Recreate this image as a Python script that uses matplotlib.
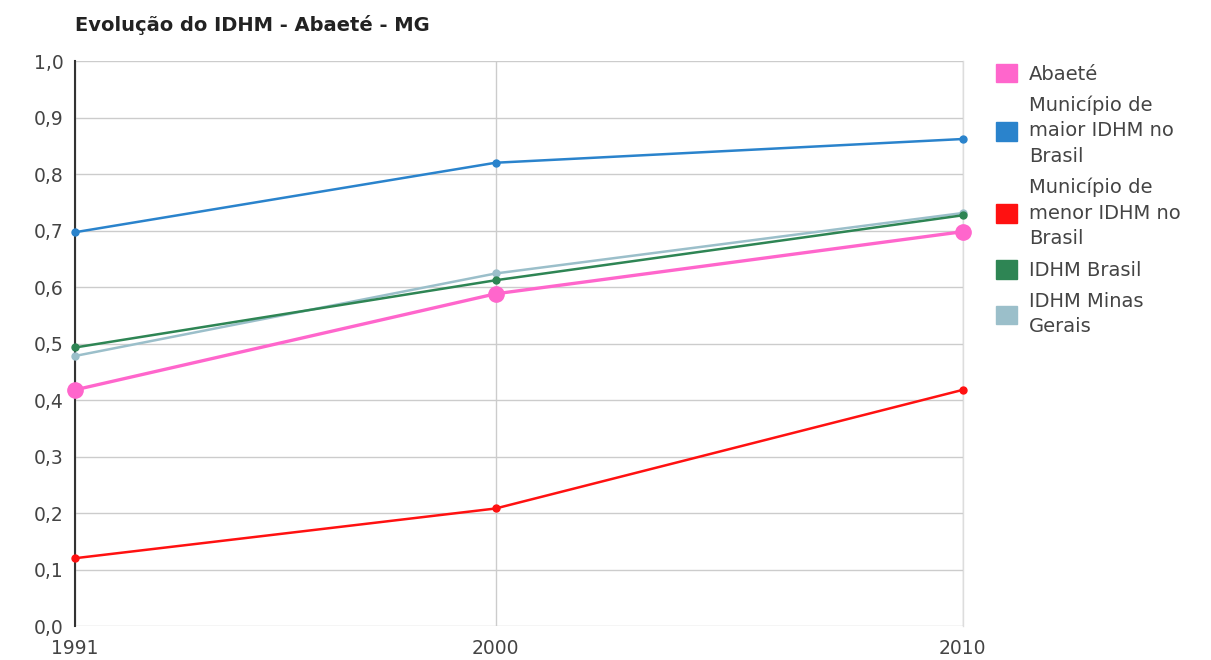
import matplotlib.pyplot as plt
from matplotlib.patches import Patch

plt.rcParams['font.family'] = ['DejaVu Sans']

anos = [1991, 2000, 2010]
abaete = [0.418, 0.588, 0.698]
maior_idhm = [0.697, 0.820, 0.862]
menor_idhm = [0.120, 0.208, 0.418]
idhm_brasil = [0.493, 0.612, 0.727]
idhm_mg = [0.478, 0.624, 0.731]

series = [
    ("Abaeté", abaete, "#ff66cc"),
    ("Município de\nmaior IDHM no\nBrasil", maior_idhm, "#2a83cc"),
    ("Município de\nmenor IDHM no\nBrasil", menor_idhm, "#ff1111"),
    ("IDHM Brasil", idhm_brasil, "#2e8554"),
    ("IDHM Minas\nGerais", idhm_mg, "#9bbfca"),
]

fig = plt.figure(figsize=(12.11, 6.6), dpi=100)
ax = fig.add_axes([0.062, 0.0515, 0.733, 0.856])

# desenha de trás pra frente para o Abaeté ficar por cima
for i, (nome, vals, cor) in reversed(list(enumerate(series))):
    if i == 0:
        ax.plot(anos, vals, color=cor, linewidth=2.4, marker="o", markersize=11,
                zorder=5, clip_on=False)
    else:
        ax.plot(anos, vals, color=cor, linewidth=1.8, marker="o", markersize=5,
                zorder=4, clip_on=False)

ax.set_xlim(1991, 2010)
ax.set_ylim(0, 1.0)
ax.set_xticks(anos)
ax.set_yticks([i / 10 for i in range(11)])
ax.set_yticklabels([f"{i / 10:.1f}".replace(".", ",") for i in range(11)])

ax.grid(True, color="#cccccc", linewidth=1)
ax.axvline(2010, color="#dddddd", linewidth=1, zorder=0, clip_on=False)
ax.set_axisbelow(True)
for lado in ["top", "right", "bottom"]:
    ax.spines[lado].set_visible(False)
ax.spines["left"].set_color("#333333")
ax.spines["left"].set_linewidth(1.5)
ax.tick_params(length=0, labelsize=13.5, labelcolor="#444444", pad=8)
ax.tick_params(axis="x", pad=9)

fig.text(0.062, 0.962, "Evolução do IDHM - Abaeté - MG", fontsize=14,
         fontweight="bold", color="#222222", ha="left", va="center")

handles = [Patch(facecolor=cor, edgecolor=cor) for _, _, cor in series]
labels = [nome for nome, _, _ in series]
leg = fig.legend(handles, labels, loc="upper left", bbox_to_anchor=(0.808, 0.93),
                 frameon=False, fontsize=14, handlelength=1.1, handleheight=1.1,
                 handletextpad=0.6, labelspacing=0.62, labelcolor="#444444")
for t in leg.get_texts():
    t.set_linespacing(1.42)

fig.savefig("out.png", dpi=100)
